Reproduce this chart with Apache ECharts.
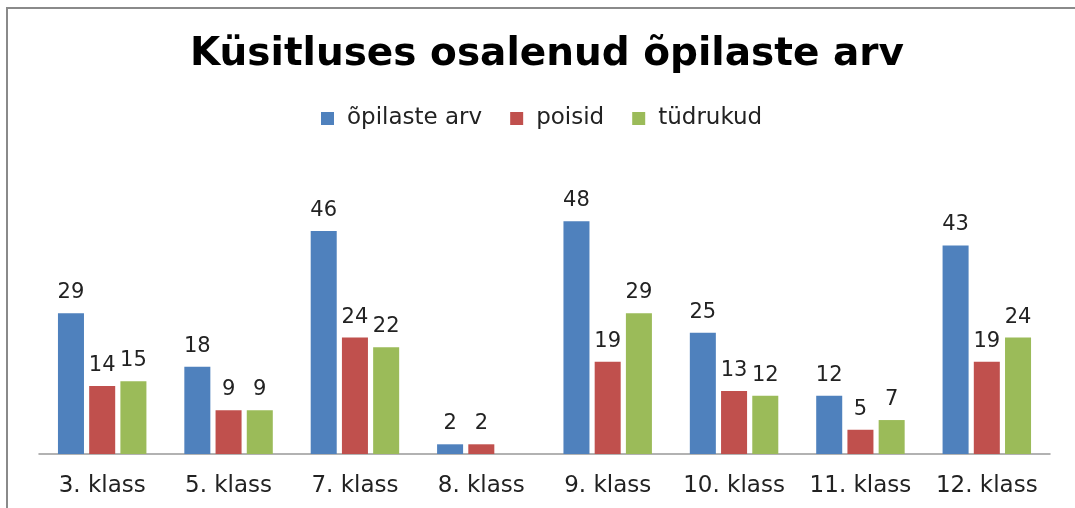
<!DOCTYPE html>
<html>
<head>
<meta charset="utf-8">
<script src="https://cdn.jsdelivr.net/npm/echarts@6/dist/echarts.min.js"></script>
<style>
  html, body { margin: 0; padding: 0; background: #fff; }
  #echart { width: 1075px; height: 508px; }
</style>
</head>
<body>
<div id="echart"></div>
<script>
var klassid = ['3. klass', '5. klass', '7. klass', '8. klass', '9. klass', '10. klass', '11. klass', '12. klass'];
var opilasteArv = [29, 18, 46, 2, 48, 25, 12, 43];
var poisid = [14, 9, 24, 2, 19, 13, 5, 19];
var tudrukud = [15, 9, 22, null, 29, 12, 7, 24];

var font = '"DejaVu Sans", sans-serif';
var labelStyle = {
    show: true,
    position: 'top',
    distance: 10,
    color: '#222',
    fontFamily: font,
    fontSize: 21
};

var myChart = echarts.init(document.getElementById('echart'));
var option = {
    animation: false,
    graphic: [{
        type: 'rect',
        shape: { x: 7, y: 8, width: 1090, height: 530 },
        style: { fill: 'none', stroke: '#8a8a8a', lineWidth: 2 }
    }],
    title: {
        text: 'Küsitluses osalenud õpilaste arv',
        left: 185,
        top: 30,
        textStyle: { fontFamily: font, fontWeight: 'bold', fontSize: 39, color: '#000' }
    },
    legend: {
        data: ['õpilaste arv', 'poisid', 'tüdrukud'],
        top: 102,
        left: 316,
        icon: 'rect',
        itemWidth: 13,
        itemHeight: 13,
        itemGap: 28,
        textStyle: { fontFamily: font, fontSize: 23, color: '#222', padding: [0, 0, 0, 8] }
    },
    grid: { left: 39, right: 25, top: 163, bottom: 54, containLabel: false },
    xAxis: {
        type: 'category',
        data: klassid,
        axisLine: { lineStyle: { color: '#999', width: 1.5 } },
        axisTick: { show: false },
        axisLabel: { color: '#222', fontFamily: font, fontSize: 23, margin: 21, interval: 0 }
    },
    yAxis: {
        type: 'value',
        min: 0,
        max: 60,
        interval: 10,
        show: false,
        splitLine: { show: false }
    },
    series: [
        {
            name: 'õpilaste arv', type: 'bar', data: opilasteArv,
            barGap: '20%', barCategoryGap: '30%',
            itemStyle: { color: '#4F81BD' }, label: labelStyle
        },
        {
            name: 'poisid', type: 'bar', data: poisid,
            itemStyle: { color: '#C0504D' }, label: labelStyle
        },
        {
            name: 'tüdrukud', type: 'bar', data: tudrukud,
            itemStyle: { color: '#9BBB59' }, label: labelStyle
        }
    ]
};
myChart.setOption(option);
window.onresize = myChart.resize;
</script>
</body>
</html>
